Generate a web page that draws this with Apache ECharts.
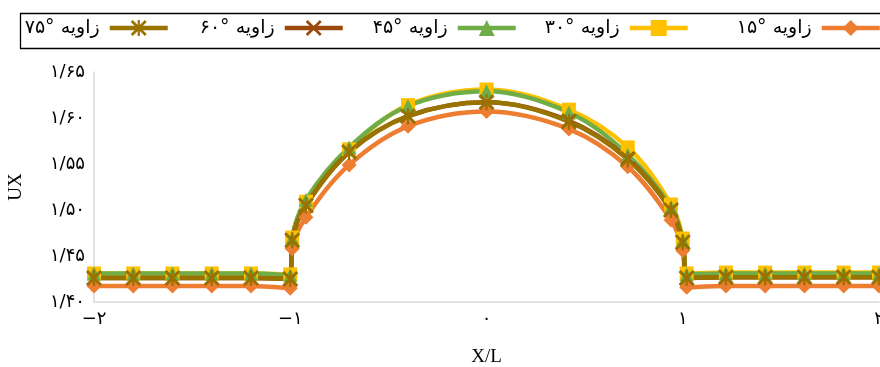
<!DOCTYPE html>
<html>
<head>
<meta charset="utf-8">
<script src="https://cdn.jsdelivr.net/npm/echarts@6/dist/echarts.min.js"></script>
<style>
html,body{margin:0;padding:0;background:#fff;}
#c{width:880px;height:367px;}
</style>
</head>
<body>
<div id="c"></div>
<script>
// ---- data ----
const xValues = [-2, -1.8, -1.6, -1.4, -1.2, -1.0, -0.99, -0.92, -0.70, -0.40, 0.0, 0.42, 0.72, 0.94, 1.0, 1.02, 1.22, 1.42, 1.62, 1.82, 2.0];
const seriesNames = ['۱۵° زاویه', '۳۰° زاویه', '۴۵° زاویه', '۶۰° زاویه', '۷۵° زاویه'];
const ux15 = [1.4175, 1.4175, 1.4175, 1.4175, 1.4175, 1.415, 1.458, 1.492, 1.549, 1.591, 1.607, 1.588, 1.547, 1.489, 1.456, 1.416, 1.4175, 1.4175, 1.4175, 1.4175, 1.4175];
const ux30 = [1.431, 1.431, 1.431, 1.431, 1.431, 1.430, 1.470, 1.509, 1.566, 1.614, 1.631, 1.609, 1.568, 1.506, 1.469, 1.431, 1.432, 1.432, 1.432, 1.432, 1.432];
const ux45 = [1.431, 1.431, 1.431, 1.431, 1.431, 1.429, 1.469, 1.511, 1.568, 1.613, 1.629, 1.606, 1.560, 1.503, 1.467, 1.430, 1.431, 1.431, 1.431, 1.431, 1.431];
const ux60 = [1.426, 1.426, 1.426, 1.426, 1.426, 1.425, 1.467, 1.505, 1.563, 1.602, 1.617, 1.597, 1.556, 1.500, 1.465, 1.426, 1.427, 1.427, 1.427, 1.427, 1.427];
const ux75 = [1.426, 1.426, 1.426, 1.426, 1.426, 1.425, 1.467, 1.505, 1.563, 1.602, 1.617, 1.596, 1.555, 1.500, 1.465, 1.426, 1.427, 1.427, 1.427, 1.427, 1.427];
const yTicks = [1.40, 1.45, 1.50, 1.55, 1.60, 1.65];
const xTicks = [-2, -1, 0, 1, 2];

// ---- helpers ----
const faDigits = '۰۱۲۳۴۵۶۷۸۹';
function toFa(s){ return String(s).replace(/\d/g, d => faDigits[+d]); }
function pairs(ys){ return xValues.map((x,i)=>[x, ys[i]]); }

const colors = ['#ED7D31', '#FFC000', '#70AD47', '#9E480E', '#997300'];
const crossPath = 'path://M0,1.2 L1.2,0 L5,3.8 L8.8,0 L10,1.2 L6.2,5 L10,8.8 L8.8,10 L5,6.2 L1.2,10 L0,8.8 L3.8,5 Z';
const starPath = 'path://M0,1.2 L1.2,0 L5,3.8 L8.8,0 L10,1.2 L6.2,5 L10,8.8 L8.8,10 L5,6.2 L1.2,10 L0,8.8 L3.8,5 Z M4.3,0 L5.7,0 L5.7,10 L4.3,10 Z';
const symbols = ['diamond', 'rect', 'triangle', crossPath, starPath];
const symSizes = [15, 14, 14, 15, 16];
const dataSets = [ux15, ux30, ux45, ux60, ux75];
const legendRights = [-2, 190, 362, 535, 710];

const persianFont = '"DejaVu Sans", "Noto Sans", sans-serif';
const latinFont = '"Liberation Serif", "DejaVu Serif", serif';

const chart = echarts.init(document.getElementById('c'), null, {renderer:'canvas'});
const option = {
  animation: false,
  backgroundColor: '#ffffff',
  graphic: [{
    type: 'rect', left: 18, top: 11,
    shape: {x: 0, y: 0, width: 900, height: 35},
    style: {fill: 'none', stroke: '#000', lineWidth: 1.3},
    z: 0
  }],
  legend: seriesNames.map((n, i) => ({
    data: [n],
    right: legendRights[i],
    top: 18.5,
    padding: 0,
    align: 'right',
    itemWidth: 58,
    itemHeight: 20,
    itemGap: 0,
    lineStyle: {width: 4.5},
    textStyle: {fontFamily: persianFont, fontSize: 19, color: '#000', padding: [0, 5, 0, 0]}
  })),
  grid: {left: 94, right: 1, top: 72, bottom: 65, containLabel: false, outerBoundsMode: 'none'},
  xAxis: {
    type: 'value', min: -2, max: 2, interval: 1,
    name: 'X/L', nameLocation: 'middle', nameGap: 46,
    nameTextStyle: {fontFamily: latinFont, fontSize: 19, color: '#000'},
    axisLine: {show: true, onZero: false, lineStyle: {color: '#d9d9d9', width: 1.5}},
    axisTick: {show: false},
    splitLine: {show: false},
    axisLabel: {
      fontFamily: persianFont, fontSize: 18, color: '#000', margin: 8,
      formatter: v => (v < 0 ? '−' : '') + toFa(Math.abs(v))
    }
  },
  yAxis: {
    type: 'value', min: 1.40, max: 1.65, interval: 0.05,
    name: 'UX', nameLocation: 'middle', nameGap: 68, nameRotate: 90,
    nameTextStyle: {fontFamily: latinFont, fontSize: 19, color: '#000'},
    axisLine: {show: true, onZero: false, lineStyle: {color: '#d9d9d9', width: 1.5}},
    axisTick: {show: false},
    splitLine: {show: false},
    axisLabel: {
      fontFamily: persianFont, fontSize: 18, color: '#000', margin: 9,
      formatter: v => toFa(v.toFixed(2).replace('.', '/'))
    }
  },
  series: seriesNames.map((n, i) => ({
    name: n,
    type: 'line',
    data: pairs(dataSets[i]),
    smooth: 0.35,
    symbol: symbols[i],
    symbolSize: symSizes[i],
    showAllSymbol: true,
    clip: true,
    lineStyle: {color: colors[i], width: 4.5},
    itemStyle: {color: colors[i]},
    emphasis: {disabled: true}
  }))
};
chart.setOption(option);
</script>
</body>
</html>
